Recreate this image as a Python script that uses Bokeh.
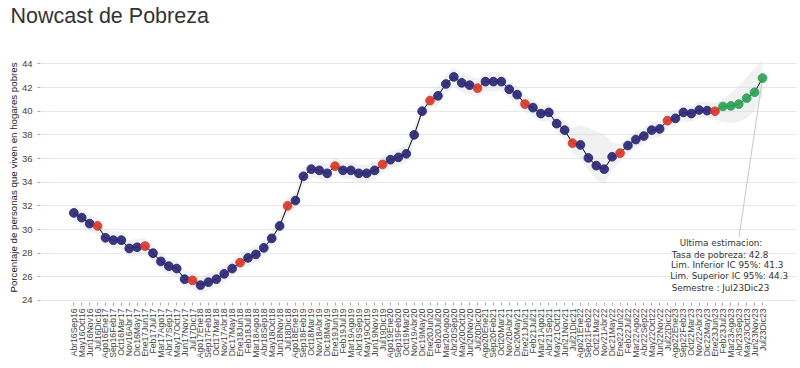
from bokeh.plotting import figure
from bokeh.models import Range1d, FixedTicker, ColumnDataSource, Title
from bokeh.core.properties import value
from bokeh.embed import file_html
from bokeh.resources import INLINE
import math

semestres = [
    "Abr16Sep16", "May16Oct16", "Jun16Nov16", "Jul16Dic16", "Ago16Ene17", "Sep16Feb17",
    "Oct16Mar17", "Nov16Abr17", "Dic16May17", "Ene17Jun17", "Feb17Jul17", "Mar17Ago17",
    "Abr17Sep17", "May17Oct17", "Jun17Nov17", "Jul17Dic17", "Ago17Ene18", "Sep17Feb18",
    "Oct17Mar18", "Nov17Abr18", "Dic17May18", "Ene18Jun18", "Feb18Jul18", "Mar18Ago18",
    "Abr18Sep18", "May18Oct18", "Jun18Nov18", "Jul18Dic18", "Ago18Ene19", "Sep18Feb19",
    "Oct18Mar19", "Nov18Abr19", "Dic18May19", "Ene19Jun19", "Feb19Jul19", "Mar19Ago19",
    "Abr19Sep19", "May19Oct19", "Jun19Nov19", "Jul19Dic19", "Ago19Ene20", "Sep19Feb20",
    "Oct19Mar20", "Nov19Abr20", "Dic19May20", "Ene20Jun20", "Feb20Jul20", "Mar20Ago20",
    "Abr20Sep20", "May20Oct20", "Jun20Nov20", "Jul20Dic20", "Ago20Ene21", "Sep20Feb21",
    "Oct20Mar21", "Nov20Abr21", "Dic20May21", "Ene21Jun21", "Feb21Jul21", "Mar21Ago21",
    "Abr21Sep21", "May21Oct21", "Jun21Nov21", "Jul21Dic21", "Ago21Ene22", "Sep21Feb22",
    "Oct21Mar22", "Nov21Abr22", "Dic21May22", "Ene22Jun22", "Feb22Jul22", "Mar22Ago22",
    "Abr22Sep22", "May22Oct22", "Jun22Nov22", "Jul22Dic22", "Ago22Ene23", "Sep22Feb23",
    "Oct22Mar23", "Nov22Abr23", "Dic22May23", "Ene23Jun23", "Feb23Jul23", "Mar23Ago23",
    "Abr23Sep23", "May23Oct23", "Jun23Nov23", "Jul23Dic23",
]

tasa_pobreza = [
    31.4, 31.0, 30.5, 30.3, 29.3, 29.1, 29.1, 28.4, 28.5, 28.6,
    28.0, 27.3, 26.9, 26.7, 25.8, 25.7, 25.3, 25.55, 25.8, 26.25,
    26.7, 27.2, 27.6, 27.9, 28.45, 29.25, 30.3, 32.0, 32.45, 34.5,
    35.1, 35.0, 34.75, 35.35, 35.0, 35.0, 34.75, 34.75, 35.0, 35.5,
    35.9, 36.1, 36.4, 38.0, 40.0, 40.9, 41.3, 42.3, 42.9, 42.4,
    42.2, 41.95, 42.5, 42.5, 42.5, 41.85, 41.4, 40.6, 40.3, 39.8,
    39.9, 38.95, 38.4, 37.3, 37.15, 36.05, 35.4, 35.1, 36.15, 36.45,
    37.1, 37.6, 37.9, 38.4, 38.5, 39.2, 39.4, 39.9, 39.8, 40.1,
    40.05, 40.0, 40.4, 40.45, 40.6, 41.1, 41.6, 42.8,
]

lim_inferior = [
    30.7, 30.3, 29.8, 29.6, 28.6, 28.4, 28.4, 27.7, 27.8, 27.9,
    27.3, 26.6, 26.2, 26.0, 25.1, 25.0, 24.6, 24.9, 25.1, 25.6,
    26.0, 26.5, 26.9, 27.2, 27.8, 28.6, 29.6, 31.3, 31.8, 33.8,
    34.4, 34.3, 34.0, 34.6, 34.3, 34.3, 34.0, 34.0, 34.3, 34.8,
    35.2, 35.4, 35.7, 37.3, 39.3, 40.2, 40.5, 41.5, 42.1, 41.6,
    41.4, 41.2, 41.7, 41.7, 41.7, 41.1, 40.7, 39.9, 39.6, 39.1,
    39.2, 38.2, 37.6, 36.4, 36.0, 35.0, 34.2, 33.8, 35.0, 35.7,
    36.4, 36.9, 37.2, 37.7, 37.8, 38.5, 38.7, 39.2, 39.1, 39.4,
    39.4, 39.3, 39.1, 39.0, 39.1, 39.4, 40.0, 41.3,
]

lim_superior = [
    32.1, 31.7, 31.2, 31.0, 30.0, 29.8, 29.8, 29.1, 29.2, 29.3,
    28.7, 28.0, 27.6, 27.4, 26.5, 26.4, 26.0, 26.3, 26.5, 26.9,
    27.4, 27.9, 28.3, 28.6, 29.1, 29.9, 31.0, 32.7, 33.1, 35.2,
    35.8, 35.7, 35.5, 36.1, 35.7, 35.7, 35.5, 35.5, 35.7, 36.2,
    36.6, 36.8, 37.1, 38.7, 40.7, 41.6, 42.1, 43.1, 43.7, 43.2,
    43.0, 42.7, 43.3, 43.3, 43.3, 42.6, 42.1, 41.3, 41.0, 40.5,
    40.6, 39.7, 39.2, 38.6, 38.8, 38.6, 38.3, 38.0, 37.4, 37.2,
    37.8, 38.3, 38.6, 39.1, 39.2, 39.9, 40.1, 40.6, 40.5, 40.8,
    40.8, 40.7, 41.0, 41.5, 42.2, 42.9, 43.6, 44.3,
]

ultimo_oficial = "Ene23Jun23"

x = list(range(len(semestres)))
i_ult = semestres.index(ultimo_oficial)
tipo = []
for i, s in enumerate(semestres):
    if i > i_ult:
        tipo.append("nowcast")
    elif s[:3] in ("Ene", "Jul"):
        tipo.append("oficial")
    else:
        tipo.append("movil")

colores = {"movil": "#2b2876", "oficial": "#d8392c", "nowcast": "#2fa257"}

# pixel geometry of the plot frame
W, H = 800, 368
ML, MR, MT, MB = 40, 4, 52, 66
frame_w = W - ML - MR
frame_h = H - MT - MB
x_start = -4.21
x_end = x_start + frame_w / 7.916
y_start = 23.83
y_end = y_start + frame_h / 11.83
px_x = frame_w / (x_end - x_start)
px_y = frame_h / (y_end - y_start)

p = figure(width=W, height=H, output_backend="svg", toolbar_location=None,
           x_range=Range1d(x_start, x_end), y_range=Range1d(y_start, y_end),
           min_border_left=ML, min_border_right=MR, min_border_top=MT, min_border_bottom=MB,
           title="Nowcast de Pobreza")
p.outline_line_color = None
p.background_fill_color = "white"
p.border_fill_color = "white"

p.title.text_font = "Liberation Sans"
p.title.text_font_size = "21.5px"
p.title.text_font_style = "normal"
p.title.text_color = "#333333"
p.title.offset = 10 - ML
p.title.standoff = 0

# empty spacer between the title and the frame
p.add_layout(Title(text="\u00a0", text_font_size="10px", standoff=12), "above")

# axes
p.xaxis.ticker = FixedTicker(ticks=x)
p.xaxis.major_label_overrides = {i: s for i, s in enumerate(semestres)}
p.xaxis.major_label_orientation = math.pi / 2
p.xaxis.major_label_text_font = "Liberation Sans"
p.xaxis.major_label_text_font_size = "8.6px"
p.xaxis.major_label_text_color = "#444444"
p.xaxis.major_label_standoff = 3
p.xaxis.major_tick_out = 3
p.xaxis.major_tick_in = 0
p.xaxis.major_tick_line_color = "#aaaaaa"
p.xaxis.minor_tick_line_color = None
p.xaxis.axis_line_color = None

p.yaxis.ticker = FixedTicker(ticks=[24, 26, 28, 30, 32, 34, 36, 38, 40, 42, 44])
p.yaxis.major_label_text_font = "Liberation Sans"
p.yaxis.major_label_text_font_size = "9.5px"
p.yaxis.major_label_text_color = "#444444"
p.yaxis.major_label_standoff = 5
p.yaxis.major_tick_out = 3
p.yaxis.major_tick_in = 0
p.yaxis.major_tick_line_color = "#aaaaaa"
p.yaxis.minor_tick_line_color = None
p.yaxis.axis_line_color = None
p.yaxis.axis_label = "Porcentaje de personas que viven en hogares pobres"
p.yaxis.axis_label_text_font = "Liberation Sans"
p.yaxis.axis_label_text_font_size = "9.7px"
p.yaxis.axis_label_text_font_style = "normal"
p.yaxis.axis_label_text_color = "#222222"
p.yaxis.axis_label_standoff = 0

p.xgrid.grid_line_color = None
p.ygrid.grid_line_color = "#e8e8e8"
p.ygrid.grid_line_width = 1

src = ColumnDataSource(dict(x=x, y=tasa_pobreza, lo=lim_inferior, hi=lim_superior,
                            tipo=tipo, color=[colores[t] for t in tipo]))

p.varea(x="x", y1="lo", y2="hi", source=src, fill_color="#cfcfcf", fill_alpha=0.3)

# annotation arrow from last point towards the text box
xl, yl = x[-1], tasa_pobreza[-1]
p.segment(x0=[xl], y0=[yl], x1=[xl - 23.5 / px_x], y1=[yl - 159 / px_y],
          line_color="#c8c8c8", line_width=1)

p.line(x="x", y="y", source=src, line_color="black", line_width=1)
p.scatter(x="x", y="y", source=src, size=8.7, fill_color="color", line_color="color",
          fill_alpha=0.92, line_alpha=0.92)

ann_lines = [
    "Ultima estimacion:",
    "Tasa de pobreza:  %.1f" % tasa_pobreza[-1],
    "Lim. Inferior IC 95%%:  %.1f" % lim_inferior[-1],
    "Lim. Superior IC 95%%:  %.1f" % lim_superior[-1],
    "Semestre : %s" % semestres[-1],
]
ann_dx = [-41.5, -41.0, -34.0, -32.0, -42.0]
ann_dy = [165.4, 176.7, 187.4, 198.4, 210.0]
ann = ColumnDataSource(dict(
    x=[xl + d / px_x for d in ann_dx],
    y=[yl - d / px_y for d in ann_dy],
    t=ann_lines))
p.text(x="x", y="y", text="t", source=ann, text_align="center", text_baseline="middle",
       text_font=value("DejaVu Sans"), text_font_size="8.8px", text_color="#333333")

open("out.html", "w").write(file_html(p, INLINE))
